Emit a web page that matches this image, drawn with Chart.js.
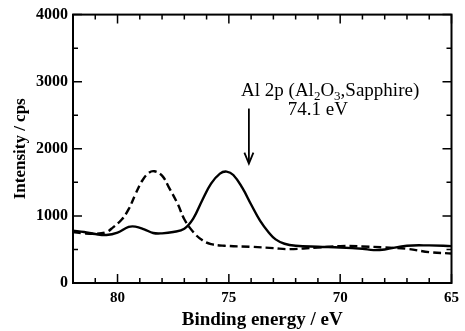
<!DOCTYPE html>
<html>
<head>
<meta charset="utf-8">
<script src="https://cdn.jsdelivr.net/npm/chart.js@4.4.1/dist/chart.umd.min.js"></script>
<style>
html,body{margin:0;padding:0;background:#fff;}
#wrap{width:465px;height:331px;position:relative;}
</style>
</head>
<body>
<div id="wrap"><canvas id="c" width="465" height="331"></canvas></div>
<script>
const solidEnergy = [82.0,81.5,81.0,80.5,80.0,79.5,79.2,78.8,78.4,78.0,77.5,77.0,76.6,76.2,75.8,75.4,75.1,74.8,74.4,74.0,73.6,73.2,72.9,72.5,72.0,71.0,70.0,69.0,68.5,68.0,67.0,66.0,65.0];
const solidCounts = [780,760,730,715,750,835,840,800,745,740,760,810,960,1230,1480,1630,1660,1610,1420,1170,930,750,650,585,555,540,530,510,490,500,555,560,550];
const dashedEnergy = [82.0,81.5,81.0,80.5,80.2,79.8,79.5,79.2,78.9,78.6,78.35,78.0,77.7,77.3,77.0,76.6,76.2,75.8,75.2,74.0,73.0,72.3,71.0,70.0,69.0,68.0,67.0,66.0,65.0];
const dashedCounts = [760,740,735,760,830,950,1100,1320,1520,1640,1665,1600,1430,1180,950,760,640,580,555,540,520,505,530,550,545,530,510,460,440];
const xTicks = [80,75,70,65];
const yTicks = [0,1000,2000,3000,4000];
const xTitle = 'Binding energy / eV';
const yTitle = 'Intensity / cps';
const peakEnergy = 74.1;

const serif = '"Liberation Serif", "DejaVu Serif", serif';

const frame = {
  id:'frame',
  afterDraw(chart){
    const {ctx, chartArea:a, scales:{x,y}} = chart;
    ctx.save();
    ctx.strokeStyle='#000';
    ctx.lineWidth=2;
    ctx.strokeRect(a.left,a.top,a.right-a.left,a.bottom-a.top);
    ctx.lineWidth=1.5;
    ctx.beginPath();
    for(let e=65;e<=82;e++){
      const px=x.getPixelForValue(e);
      const L = (e%5===0)?9:5;
      ctx.moveTo(px,a.bottom); ctx.lineTo(px,a.bottom-L);
      ctx.moveTo(px,a.top); ctx.lineTo(px,a.top+L);
    }
    for(let v=0;v<=4000;v+=500){
      const py=y.getPixelForValue(v);
      const L=(v%1000===0)?9:5;
      ctx.moveTo(a.left,py); ctx.lineTo(a.left+L,py);
      ctx.moveTo(a.right,py); ctx.lineTo(a.right-L,py);
    }
    ctx.stroke();
    // annotation arrow
    const ax=x.getPixelForValue(peakEnergy);
    const y0=y.getPixelForValue(2600), y1=y.getPixelForValue(1780);
    ctx.lineWidth=1.8;
    ctx.beginPath();
    ctx.moveTo(ax,y0); ctx.lineTo(ax,y1-1);
    ctx.stroke();
    ctx.beginPath();
    ctx.moveTo(ax-4.5,y1-11); ctx.lineTo(ax,y1); ctx.lineTo(ax+4.5,y1-11);
    ctx.stroke();
    // annotation text
    ctx.fillStyle='#000';
    ctx.textBaseline='alphabetic';
    const big='19px '+serif, small='13px '+serif;
    const parts=[['Al 2p (Al',big,0],['2',small,4],['O',big,0],['3',small,4],[',Sapphire)',big,0]];
    let w=0;
    parts.forEach(p=>{ctx.font=p[1]; w+=ctx.measureText(p[0]).width;});
    let tx=x.getPixelForValue(70.45)-w/2;
    const ty=y.getPixelForValue(2780);
    parts.forEach(p=>{ctx.font=p[1]; ctx.fillText(p[0],tx,ty+p[2]); tx+=ctx.measureText(p[0]).width;});
    ctx.font=big;
    ctx.textAlign='center';
    ctx.fillText('74.1 eV',x.getPixelForValue(71.0),y.getPixelForValue(2500));
    ctx.restore();
  }
};

new Chart(document.getElementById('c'),{
  type:'line',
  data:{datasets:[
    {data:solidEnergy.map((e,i)=>({x:e,y:solidCounts[i]})),borderColor:'#000',borderWidth:2.4,pointRadius:0,tension:0.4,fill:false},
    {data:dashedEnergy.map((e,i)=>({x:e,y:dashedCounts[i]})),borderColor:'#000',borderWidth:2.4,borderDash:[8,4],pointRadius:0,tension:0.4,fill:false}
  ]},
  options:{
    responsive:false,animation:false,
    layout:{padding:{top:13,right:8,left:0,bottom:0}},
    plugins:{legend:{display:false},tooltip:{enabled:false}},
    scales:{
      x:{type:'linear',min:65,max:82,reverse:true,
        afterBuildTicks(s){s.ticks=xTicks.map(v=>({value:v}));},
        afterFit(s){s.height=48;},
        grid:{display:false,drawTicks:false},border:{display:false},
        ticks:{color:'#000',padding:6,callback:v=>String(v),font:{family:serif,size:15,weight:'bold'}},
        title:{display:true,text:xTitle,color:'#000',font:{family:serif,size:19,weight:'bold'},padding:{top:0,bottom:0}}
      },
      y:{type:'linear',min:0,max:4000,
        afterBuildTicks(s){s.ticks=yTicks.map(v=>({value:v}));},
        afterFit(s){s.width=73;},
        grid:{display:false,drawTicks:false},border:{display:false},
        ticks:{color:'#000',padding:5,callback:v=>String(v),font:{family:serif,size:16,weight:'bold'}},
        title:{display:true,text:yTitle,color:'#000',font:{family:serif,size:17,weight:'bold'},padding:{top:10,bottom:0}}
      }
    }
  },
  plugins:[frame]
});
</script>
</body>
</html>
